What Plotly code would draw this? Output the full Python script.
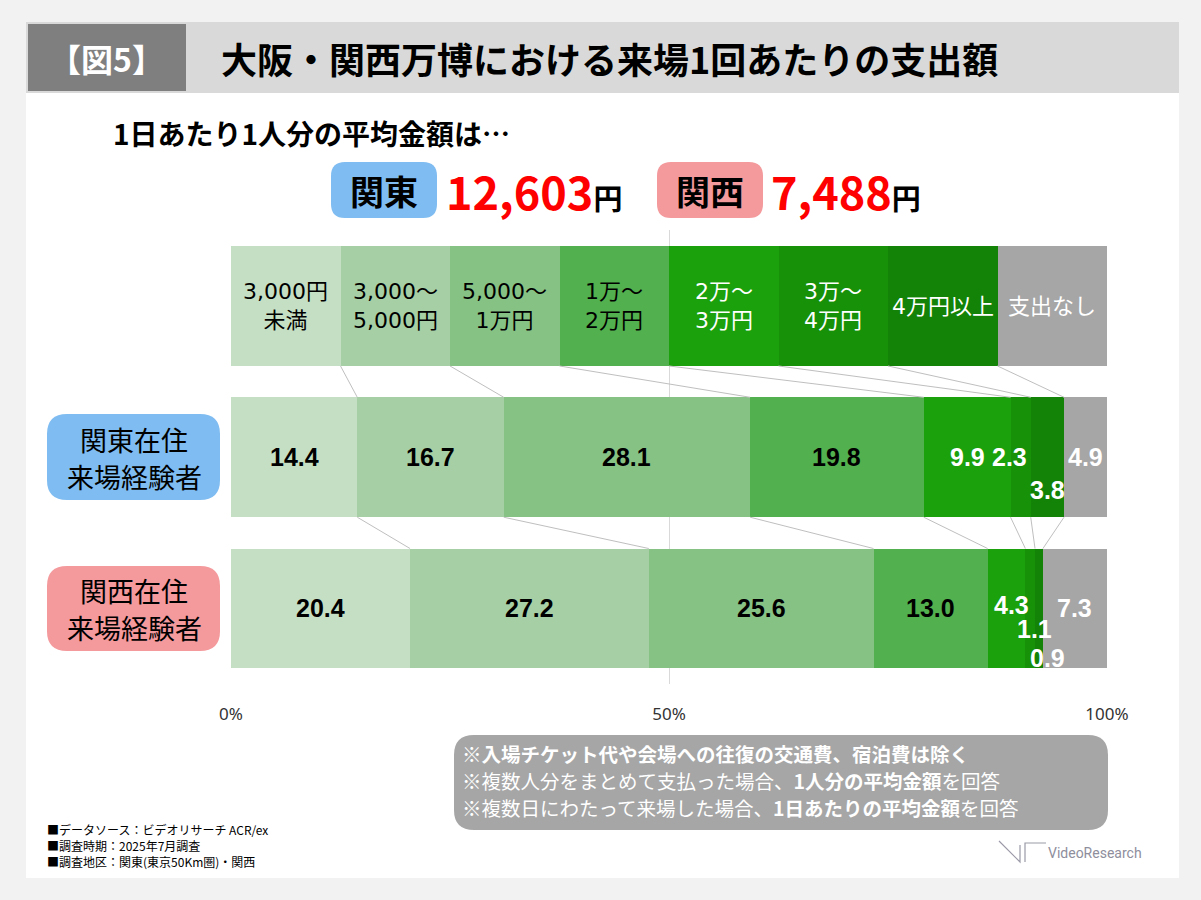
import plotly.graph_objects as go

# ---------------- data ----------------
categories = ["3,000円未満", "3,000～5,000円", "5,000～1万円", "1万～2万円",
              "2万～3万円", "3万～4万円", "4万円以上", "支出なし"]
header_labels = ["3,000円<br>未満", "3,000～<br>5,000円", "5,000～<br>1万円", "1万～<br>2万円",
                 "2万～<br>3万円", "3万～<br>4万円", "4万円以上", "支出なし"]
kanto_values = [14.4, 16.7, 28.1, 19.8, 9.9, 2.3, 3.8, 4.9]
kansai_values = [20.4, 27.2, 25.6, 13.0, 4.3, 1.1, 0.9, 7.3]
header_values = [12.5] * 8
row_labels = [["関東在住", "来場経験者"], ["関西在住", "来場経験者"]]
avg_kanto = "12,603"
avg_kansai = "7,488"
tick_vals = [0, 50, 100]
tick_text = ["0%", "50%", "100%"]

colors = ["#c5dfc4", "#a7cfa5", "#87c285", "#52b04e", "#1aa10b", "#179108", "#128306", "#a6a6a6"]
header_font_colors = ["black"] * 4 + ["white"] * 4
value_font_colors = ["black"] * 4 + ["white"] * 4

W, H = 1201, 900
JP = "Noto Sans CJK JP"
HDR = "DejaVu Sans, Noto Sans CJK JP"
NUM = "Liberation Sans, Arial"


def px(x):
    return x / W


def py(y):
    return 1 - y / H


def rrect(x0, y0, x1, y1, r):
    X0, X1 = px(x0), px(x1)
    Y0, Y1 = py(y0), py(y1)
    rx, ry = r / W, r / H
    return (f"M {X0+rx},{Y0} L {X1-rx},{Y0} Q {X1},{Y0} {X1},{Y0-ry} "
            f"L {X1},{Y1+ry} Q {X1},{Y1} {X1-rx},{Y1} L {X0+rx},{Y1} "
            f"Q {X0},{Y1} {X0},{Y1+ry} L {X0},{Y0-ry} Q {X0},{Y0} {X0+rx},{Y0} Z")


def ann(x, y, text, size, color="black", family=JP, xanchor="center", yanchor="middle", **kw):
    return dict(xref="paper", yref="paper", x=px(x), y=py(y), text=text, showarrow=False,
                xanchor=xanchor, yanchor=yanchor, font=dict(family=family, size=size, color=color), **kw)


BW = 0.793
ys = [2, 1, 0]

fig = go.Figure()
for i, cat in enumerate(categories):
    fig.add_trace(go.Bar(
        y=ys,
        x=[header_values[i], kanto_values[i], kansai_values[i]],
        orientation="h",
        name=cat,
        width=[BW] * 3,
        marker=dict(color=colors[i], line=dict(width=0)),
        hoverinfo="skip",
        showlegend=False,
    ))


def norm_cum(vals):
    s = sum(vals)
    out, c = [], 0
    for v in vals:
        out.append((c, c + v / s * 100))
        c += v / s * 100
    return out


hc = norm_cum(header_values)
kc = norm_cum(kanto_values)
sc = norm_cum(kansai_values)

shapes = []
annotations = []

# background panel & title bar
shapes.append(dict(type="rect", xref="paper", yref="paper", x0=px(26), x1=px(1179), y0=py(878), y1=py(22),
                   fillcolor="white", line=dict(width=0), layer="below"))
shapes.append(dict(type="rect", xref="paper", yref="paper", x0=px(26), x1=px(1179), y0=py(93), y1=py(22),
                   fillcolor="#d9d9d9", line=dict(width=0), layer="below"))
shapes.append(dict(type="rect", xref="paper", yref="paper", x0=px(28), x1=px(186), y0=py(91), y1=py(24),
                   fillcolor="#7f7f7f", line=dict(width=0), layer="below"))
annotations.append(ann(106, 58, "<b>【図5】</b>", 32, "white"))
annotations.append(ann(219, 58, "<b>大阪・関西万博における来場1回あたりの支出額</b>", 36, xanchor="left"))

# subtitle
annotations.append(ann(111, 133, "<b>1日あたり1人分の平均金額は…</b>", 28, xanchor="left"))

# averages
shapes.append(dict(type="path", xref="paper", yref="paper", path=rrect(331, 162, 437, 218, 14),
                   fillcolor="#7fbcf1", line=dict(width=0)))
shapes.append(dict(type="path", xref="paper", yref="paper", path=rrect(657, 162, 763, 218, 14),
                   fillcolor="#f4999c", line=dict(width=0)))
annotations.append(ann(384, 190, "<b>関東</b>", 34))
annotations.append(ann(710, 190, "<b>関西</b>", 34))
annotations.append(ann(444, 190, f"<b><span style='color:red;font-size:45px'>{avg_kanto}</span>円</b>", 29,
                       xanchor="left"))
annotations.append(ann(769, 190, f"<b><span style='color:red;font-size:45px'>{avg_kansai}</span>円</b>", 29,
                       xanchor="left"))

# row label boxes
shapes.append(dict(type="path", xref="paper", yref="paper", path=rrect(47, 414, 220, 500, 20),
                   fillcolor="#7fbcf1", line=dict(width=0)))
shapes.append(dict(type="path", xref="paper", yref="paper", path=rrect(47, 566, 220, 651, 20),
                   fillcolor="#f4999c", line=dict(width=0)))
for (l1, l2), yc in zip(row_labels, [458, 609]):
    annotations.append(ann(134, yc - 18.5, l1, 27))
    annotations.append(ann(134, yc + 18.5, l2, 27))

# connector lines
for k in range(1, 8):
    shapes.append(dict(type="line", xref="x", yref="y", x0=hc[k][0], y0=2 - BW / 2, x1=kc[k][0], y1=1 + BW / 2,
                       line=dict(color="#bfbfbf", width=1)))
    shapes.append(dict(type="line", xref="x", yref="y", x0=kc[k][0], y0=1 - BW / 2, x1=sc[k][0], y1=0 + BW / 2,
                       line=dict(color="#bfbfbf", width=1)))

# header labels
for i, lab in enumerate(header_labels):
    annotations.append(dict(xref="x", yref="y", x=(hc[i][0] + hc[i][1]) / 2, y=2, text=lab,
                            xanchor="center", yanchor="middle",
                            showarrow=False, font=dict(family=HDR, size=22, color=header_font_colors[i])))

# value labels
k_shift = {5: (-11, 0), 6: (0, -33)}
s_shift = {4: (5, 3), 5: (4, -21), 6: (9, -50)}
for i in range(8):
    dx, dy = k_shift.get(i, (0, 0))
    annotations.append(dict(xref="x", yref="y", x=(kc[i][0] + kc[i][1]) / 2, y=1, text=f"<b>{kanto_values[i]:.1f}</b>",
                            xanchor="center", yanchor="middle",
                            xshift=dx, yshift=dy, showarrow=False,
                            font=dict(family=NUM, size=25, color=value_font_colors[i])))
    dx, dy = s_shift.get(i, (0, 0))
    annotations.append(dict(xref="x", yref="y", x=(sc[i][0] + sc[i][1]) / 2, y=0, text=f"<b>{kansai_values[i]:.1f}</b>",
                            xanchor="center", yanchor="middle",
                            xshift=dx, yshift=dy, showarrow=False,
                            font=dict(family=NUM, size=25, color=value_font_colors[i])))

# note box
shapes.append(dict(type="path", xref="paper", yref="paper", path=rrect(454, 735, 1108, 830, 20),
                   fillcolor="#a6a6a6", line=dict(width=0)))
notes = ["※<b>入場チケット代や会場への往復の交通費、宿泊費は除く</b>",
         "※複数人分をまとめて支払った場合、<b>1人分の平均金額</b>を回答",
         "※複数日にわたって来場した場合、<b>1日あたりの平均金額</b>を回答"]
for j, t in enumerate(notes):
    annotations.append(ann(460, 753 + 27 * j, t, 19.5, "white", xanchor="left"))

# footer
foot = ["■データソース：ビデオリサーチ ACR/ex", "■調査時期：2025年7月調査", "■調査地区：関東(東京50Km圏)・関西"]
for j, t in enumerate(foot):
    annotations.append(ann(45, 829 + 16 * j, t, 12, xanchor="left"))

# logo
shapes.append(dict(type="path", xref="paper", yref="paper",
                   path=f"M {px(999)},{py(841)} L {px(1020)},{py(862)} L {px(1020)},{py(845)}",
                   line=dict(color="#9a9aa8", width=1.2)))
shapes.append(dict(type="path", xref="paper", yref="paper",
                   path=f"M {px(1025)},{py(862)} L {px(1025)},{py(843)} L {px(1046)},{py(843)}",
                   line=dict(color="#9a9aa8", width=1.2)))
annotations.append(ann(1046, 853, "VideoResearch", 14, "#8e8e9c", family="Roboto, Liberation Sans",
                       xanchor="left"))

fig.update_layout(
    width=W, height=H, autosize=False,
    margin=dict(l=0, r=0, t=0, b=0, pad=0, autoexpand=False),
    paper_bgcolor="#f2f2f2", plot_bgcolor="rgba(0,0,0,0)",
    barmode="stack", barnorm="percent",
    shapes=shapes, annotations=annotations,
    xaxis=dict(domain=[px(231), px(1107)], range=[0, 100], tickvals=tick_vals, ticktext=tick_text,
               automargin=False,
               showgrid=True, gridcolor="#d9d9d9", gridwidth=1, zeroline=False, showline=False,
               ticks="", ticklabelstandoff=18, tickfont=dict(family="Noto Sans", size=17, color="#333333")),
    yaxis=dict(domain=[1 - 684.1 / H, 1 - 230.4 / H], range=[-0.5, 2.5], showticklabels=False,
               automargin=False,
               showgrid=False, zeroline=False, showline=False),
)

fig.write_html("out.html", config={"displayModeBar": False},
               post_script="document.body.style.margin='0';document.body.style.overflow='hidden';")
